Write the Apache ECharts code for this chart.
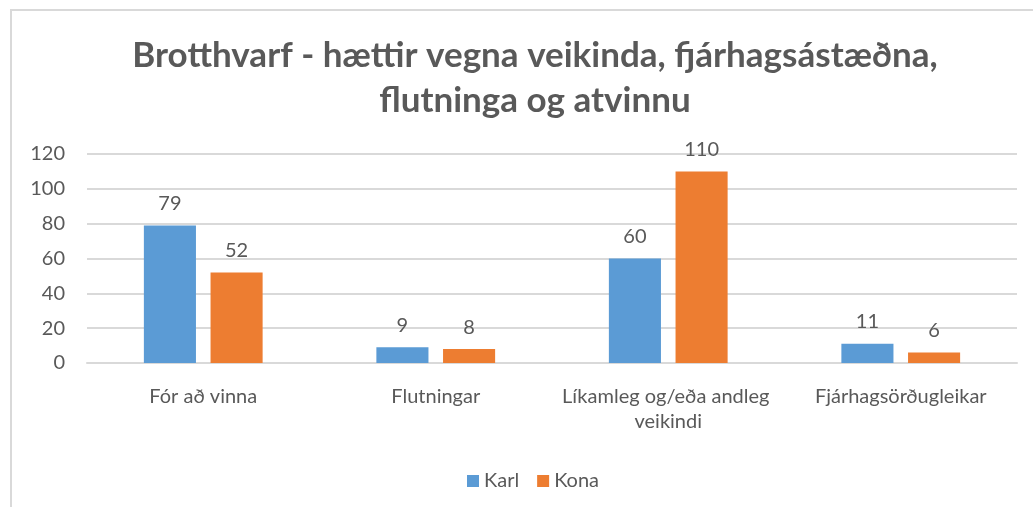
<!DOCTYPE html>
<html>
<head>
<meta charset="utf-8">
<script src="https://cdn.jsdelivr.net/npm/echarts@6/dist/echarts.min.js"></script>
<style>
  html, body { margin: 0; padding: 0; background: #fff; }
  #main { width: 1033px; height: 507px; }
</style>
</head>
<body>
<div id="main"></div>
<script>
// gögn lesin af myndinni
const categories = ['Fór að vinna', 'Flutningar', 'Líkamleg og/eða andleg veikindi', 'Fjárhagsörðugleikar']
const karl = [79, 9, 60, 11]
const kona = [52, 8, 110, 6]
const yTicks = [0, 20, 40, 60, 80, 100, 120]

const font = 'Lato, "Open Sans", sans-serif'
const textColor = '#595959'

const chart = echarts.init(document.getElementById('main'))

chart.setOption({
  animation: false,
  textStyle: { fontFamily: font },
  title: {
    text: 'Brotthvarf - hættir vegna veikinda, fjárhagsástæðna,\nflutninga og atvinnu',
    left: 530,
    top: 28,
    textAlign: 'center',
    textStyle: {
      fontFamily: font,
      fontSize: 35,
      fontWeight: 'bold',
      color: textColor,
      lineHeight: 45,
    },
  },
  graphic: [{
    type: 'rect',
    shape: { x: 11, y: 10, width: 1040, height: 520 },
    style: { fill: 'none', stroke: '#d9d9d9', lineWidth: 2 },
    silent: true,
  }],
  legend: {
    data: ['Karl', 'Kona'],
    left: 462,
    top: 466,
    itemWidth: 12,
    itemHeight: 12,
    itemGap: 18,
    icon: 'rect',
    textStyle: { fontFamily: font, fontSize: 20, color: textColor },
  },
  grid: {
    left: 87,
    right: 16,
    top: 154,
    bottom: 144,
  },
  xAxis: {
    type: 'category',
    data: categories,
    axisLine: { lineStyle: { color: '#d9d9d9', width: 2 } },
    axisTick: { show: false },
    axisLabel: {
      color: textColor,
      fontSize: 20,
      fontFamily: font,
      margin: 21,
      width: 250,
      overflow: 'break',
      lineHeight: 25,
      interval: 0,
    },
  },
  yAxis: {
    type: 'value',
    min: yTicks[0],
    max: yTicks[yTicks.length - 1],
    interval: 20,
    axisLine: { show: false },
    axisTick: { show: false },
    axisLabel: { color: textColor, fontSize: 20, fontFamily: font, margin: 22 },
    splitLine: { lineStyle: { color: '#d9d9d9', width: 2 } },
  },
  series: [
    {
      name: 'Karl',
      type: 'bar',
      data: karl,
      barWidth: '22.4%',
      barGap: '28%',
      itemStyle: { color: '#5B9BD5' },
      label: { show: true, position: 'top', distance: 12, fontSize: 20, color: textColor, fontFamily: font },
    },
    {
      name: 'Kona',
      type: 'bar',
      data: kona,
      barWidth: '22.4%',
      barGap: '28%',
      itemStyle: { color: '#ED7D31' },
      label: { show: true, position: 'top', distance: 12, fontSize: 20, color: textColor, fontFamily: font },
    },
  ],
})
</script>
</body>
</html>
